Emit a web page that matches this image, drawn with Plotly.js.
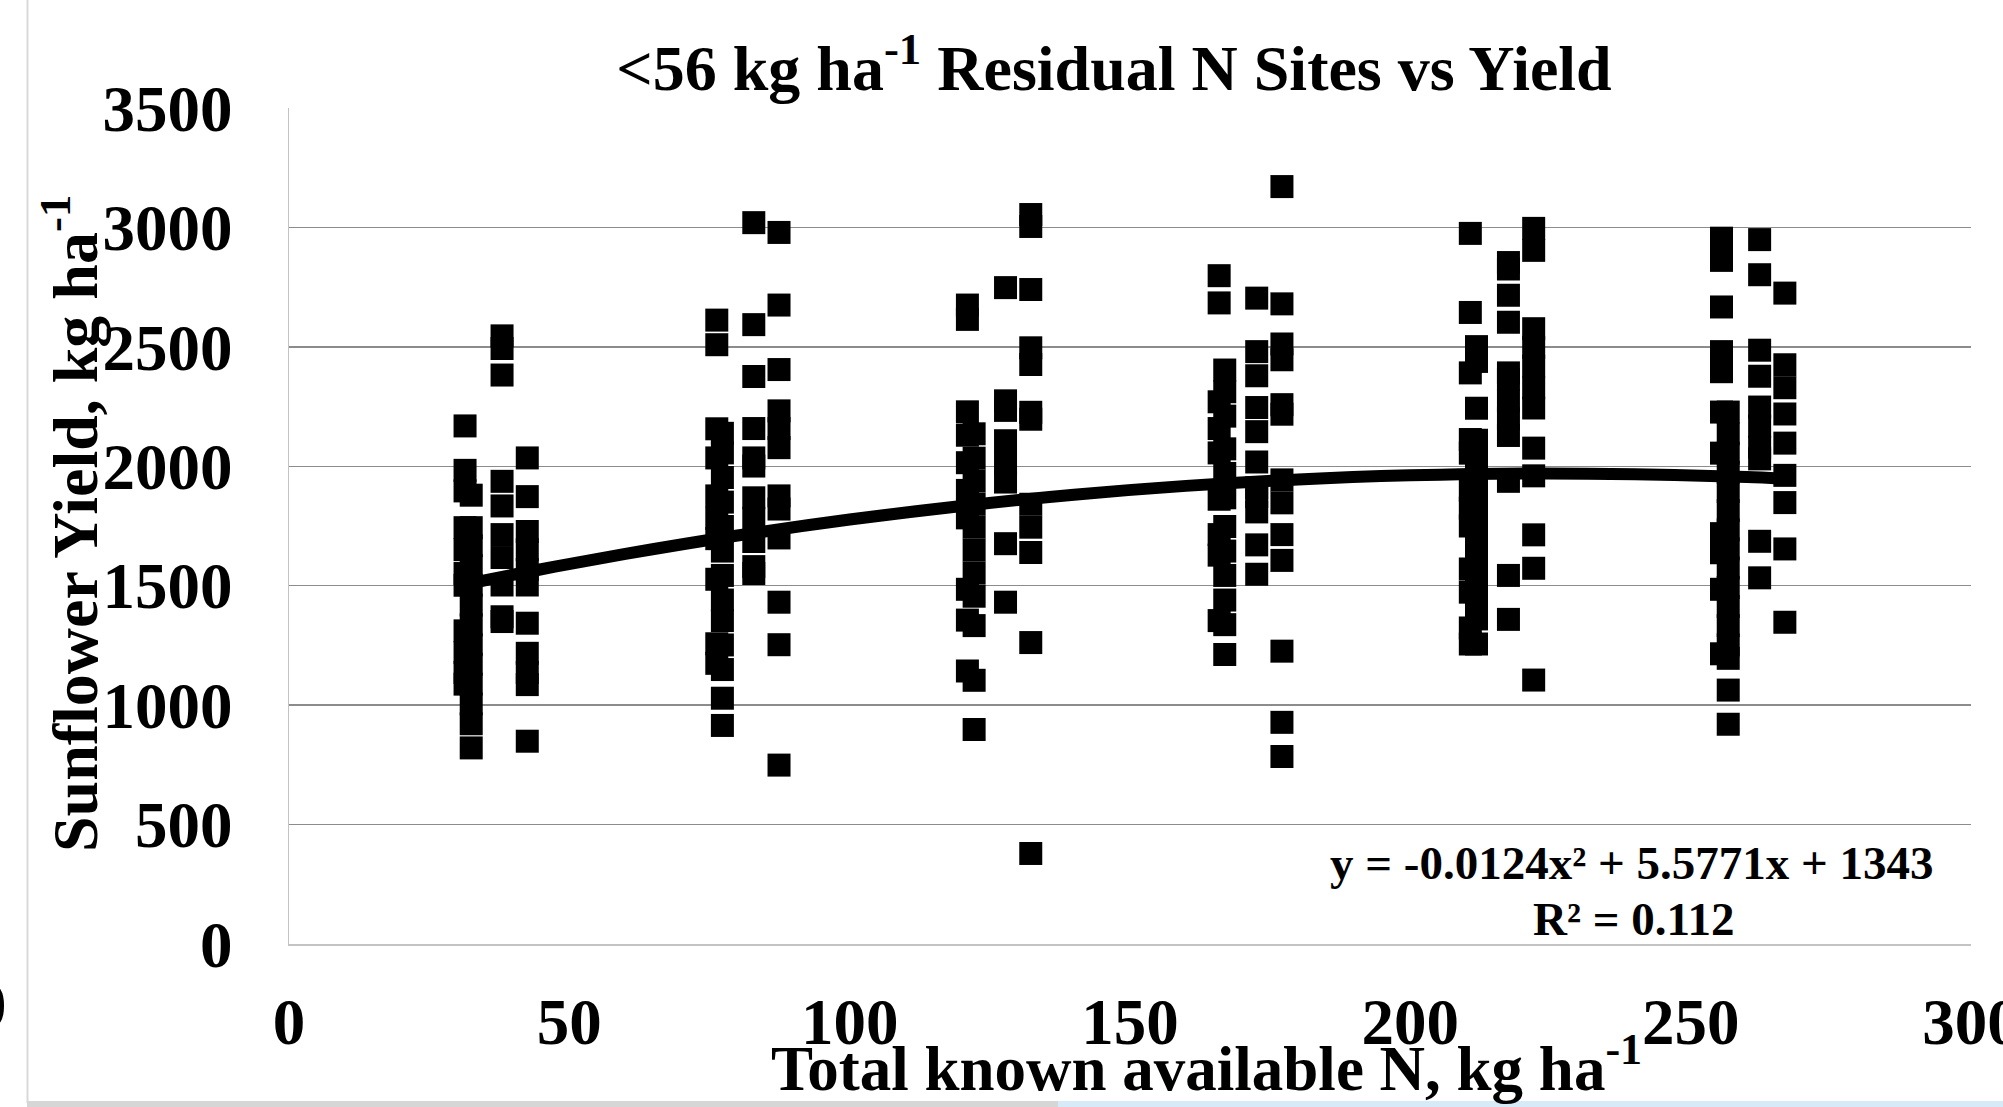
<!DOCTYPE html>
<html>
<head>
<meta charset="utf-8">
<script src="https://cdn.plot.ly/plotly-3.0.1.min.js"></script>
<style>
  html, body { margin: 0; padding: 0; background: #ffffff; }
  #chart { width: 2003px; height: 1107px; }
</style>
</head>
<body>
<div id="chart"></div>
<script>
// ---- Data ----
// Total known available N (kg/ha) of each column of points
const columnN = [31.4, 32.5, 38.0, 42.5,
                 76.3, 77.3, 82.9, 87.4,
                 121.0, 122.2, 127.8, 132.3,
                 165.9, 166.9, 172.6, 177.1,
                 210.7, 211.8, 217.5, 222.0,
                 255.5, 256.7, 262.3, 266.8];

// Sunflower yield (kg/ha) of the points in each column
const yieldN31 = [2169, 1983, 1897, 1743, 1651, 1551, 1502, 1311, 1220, 1137, 1088];
const yieldN33 = [1879, 1743, 1667, 1584, 1502, 1419, 1336, 1253, 1171, 1088, 1005, 922, 821];
const yieldN38 = [2546, 2493, 2382, 1937, 1834, 1714, 1618, 1503, 1370, 1350];
const yieldN42 = [2035, 1873, 1727, 1651, 1568, 1503, 1343, 1217, 1137, 1086, 849];

const yieldN76 = [2612, 2509, 2157, 2035, 1876, 1782, 1697, 1527, 1257, 1175];
const yieldN77 = [2138, 2056, 1953, 1850, 1748, 1645, 1543, 1440, 1354, 1252, 1149, 1029, 915];
const yieldN83 = [3020, 2593, 2376, 2158, 2035, 2001, 1868, 1782, 1685, 1580, 1551];
const yieldN87 = [2979, 2675, 2405, 2232, 2158, 2078, 1876, 1821, 1700, 1431, 1253, 749];

const yieldN121 = [2675, 2615, 2228, 2130, 2015, 1899, 1784, 1485, 1356, 1143];
const yieldN122 = [2136, 2034, 1938, 1841, 1745, 1649, 1553, 1456, 1333, 1104, 898];
const yieldN128 = [2748, 2274, 2234, 2107, 2015, 1934, 1676, 1431];
const yieldN132 = [3054, 3004, 2740, 2496, 2426, 2226, 2197, 1841, 1745, 1639, 1262, 379];

const yieldN166 = [2798, 2684, 2270, 2158, 2056, 1862, 1714, 1628, 1354];
const yieldN167 = [2403, 2312, 2210, 2073, 1970, 1868, 1748, 1645, 1543, 1440, 1337, 1212];
const yieldN173 = [2704, 2480, 2379, 2246, 2145, 2018, 1910, 1873, 1809, 1671, 1548];
const yieldN177 = [3171, 2680, 2512, 2446, 2258, 2218, 1943, 1847, 1714, 1606, 1226, 928, 785];

const yieldN211 = [2975, 2644, 2391, 2112, 2055, 1900, 1825, 1750, 1570, 1473, 1323, 1256];
const yieldN212 = [2501, 2439, 2243, 2109, 2034, 1960, 1885, 1810, 1735, 1660, 1585, 1510, 1436, 1361, 1256];
const yieldN218 = [2853, 2826, 2716, 2603, 2391, 2364, 2274, 2199, 2129, 1937, 1543, 1359];
const yieldN222 = [2996, 2904, 2576, 2498, 2419, 2328, 2244, 2076, 1960, 1713, 1573, 1105];

const yieldN256 = [2955, 2862, 2667, 2480, 2396, 2227, 2055, 1718, 1638, 1485, 1215];
const yieldN257 = [2227, 2136, 2055, 1975, 1895, 1814, 1734, 1654, 1574, 1493, 1413, 1333, 1252, 1196, 1063, 920];
const yieldN262 = [2949, 2802, 2486, 2377, 2248, 2168, 2080, 2031, 1686, 1533];
const yieldN267 = [2725, 2425, 2329, 2219, 2097, 1962, 1848, 1654, 1347];

const columnYields = [yieldN31, yieldN33, yieldN38, yieldN42,
                      yieldN76, yieldN77, yieldN83, yieldN87,
                      yieldN121, yieldN122, yieldN128, yieldN132,
                      yieldN166, yieldN167, yieldN173, yieldN177,
                      yieldN211, yieldN212, yieldN218, yieldN222,
                      yieldN256, yieldN257, yieldN262, yieldN267];

// Polynomial trend line
const trendN     = [31.4, 45, 60, 80, 100, 120, 140, 160, 180, 200, 220, 240, 260, 266.8];
const trendYield = [1506, 1569, 1633, 1710, 1777, 1834, 1881, 1918, 1945, 1962, 1970, 1967, 1955, 1948];

// Axis ticks and texts
const xTicks = [0, 50, 100, 150, 200, 250, 300];
const yTicks = [0, 500, 1000, 1500, 2000, 2500, 3000, 3500];
const chartTitle = '&lt;56 kg ha<sup>-1</sup> Residual N Sites vs Yield';
const xTitle = 'Total known available N, kg ha<sup>-1</sup>';
const yTitle = 'Sunflower Yield, kg ha<sup>-1</sup>';
const eqLine1 = 'y = -0.0124x² + 5.5771x + 1343';
const eqLine2 = 'R² = 0.112';

// ---- Build traces ----
const ptsX = [], ptsY = [];
columnN.forEach((n, i) => {
  columnYields[i].forEach(v => { ptsX.push(n); ptsY.push(v); });
});

const FONT = "'Liberation Serif', 'Times New Roman', Times, serif";

// Plot area in pixels
const L = 289, R = 1971, T = 108, B = 944, W = 2003, H = 1107;
const px = x => (x - L) / (R - L);
const py = y => (B - y) / (B - T);

const traces = [
  {
    type: 'scatter', mode: 'markers', x: ptsX, y: ptsY,
    marker: { symbol: 'square', size: 23, color: '#000000', line: { width: 0 } },
    hoverinfo: 'skip', showlegend: false, cliponaxis: false
  },
  {
    type: 'scatter', mode: 'lines', x: trendN, y: trendYield,
    line: { color: '#000000', width: 12, shape: 'spline' },
    hoverinfo: 'skip', showlegend: false
  }
];

const layout = {
  width: W, height: H,
  margin: { l: L, r: W - R, t: T, b: H - B, pad: 0 },
  paper_bgcolor: '#ffffff', plot_bgcolor: '#ffffff',
  font: { family: FONT, color: '#000000', size: 65, weight: 700 },
  showlegend: false,
  title: {
    text: chartTitle, x: px(1114), xref: 'paper', xanchor: 'center',
    y: 1 - 68 / H, yref: 'container', yanchor: 'middle',
    font: { family: FONT, size: 64, color: '#000000', weight: 700 }
  },
  xaxis: {
    range: [0, 300], tickvals: xTicks, ticktext: xTicks.map(String),
    showgrid: false, zeroline: false,
    showline: true, linecolor: '#c3c3c3', linewidth: 1.5,
    ticks: '', ticklabelstandoff: 20, ticklabeloverflow: 'allow',
    tickfont: { family: FONT, size: 65, color: '#000000', weight: 700 },
    fixedrange: true
  },
  yaxis: {
    range: [0, 3500], tickvals: yTicks, ticktext: yTicks.map(String),
    showgrid: true, gridcolor: '#8c8c8c', gridwidth: 1.5,
    zeroline: true, zerolinecolor: '#c3c3c3', zerolinewidth: 1.5,
    showline: true, linecolor: '#c3c3c3', linewidth: 1.5,
    ticks: '', ticklabelstandoff: 42, ticklabeloverflow: 'allow',
    tickfont: { family: FONT, size: 65, color: '#000000', weight: 700 },
    fixedrange: true
  },
  annotations: [
    { text: xTitle, xref: 'paper', yref: 'paper', x: px(1206), y: py(1064),
      xanchor: 'center', yanchor: 'middle', showarrow: false,
      font: { family: FONT, size: 63, color: '#000000', weight: 700 } },
    { text: yTitle, xref: 'paper', yref: 'paper', x: px(70), y: py(524),
      xanchor: 'center', yanchor: 'middle', textangle: -90, showarrow: false,
      font: { family: FONT, size: 64, color: '#000000', weight: 700 } },
    { text: eqLine1, xref: 'paper', yref: 'paper', x: px(1632), y: py(863),
      xanchor: 'center', yanchor: 'middle', showarrow: false,
      font: { family: FONT, size: 47, color: '#000000', weight: 700 } },
    { text: eqLine2, xref: 'paper', yref: 'paper', x: px(1633), y: py(919),
      xanchor: 'center', yanchor: 'middle', showarrow: false,
      font: { family: FONT, size: 47, color: '#000000', weight: 700 } },
    { text: '0', xref: 'paper', yref: 'paper', x: px(9), y: py(1005),
      xanchor: 'right', yanchor: 'middle', showarrow: false,
      font: { family: FONT, size: 65, color: '#000000', weight: 700 } }
  ],
  shapes: [
    { type: 'line', xref: 'paper', yref: 'paper', x0: px(27.5), x1: px(27.5), y0: py(0), y1: py(1103),
      line: { color: '#d9d9d9', width: 2 }, layer: 'below' },
    { type: 'rect', xref: 'paper', yref: 'paper', x0: px(27), x1: px(1058), y0: py(1101), y1: py(1107),
      fillcolor: '#d6d6d6', line: { width: 0 }, layer: 'below' },
    { type: 'rect', xref: 'paper', yref: 'paper', x0: px(1058), x1: px(2003), y0: py(1101), y1: py(1107),
      fillcolor: '#d6eaf8', line: { width: 0 }, layer: 'below' }
  ]
};

Plotly.newPlot('chart', traces, layout, { staticPlot: true, displayModeBar: false });
</script>
</body>
</html>
